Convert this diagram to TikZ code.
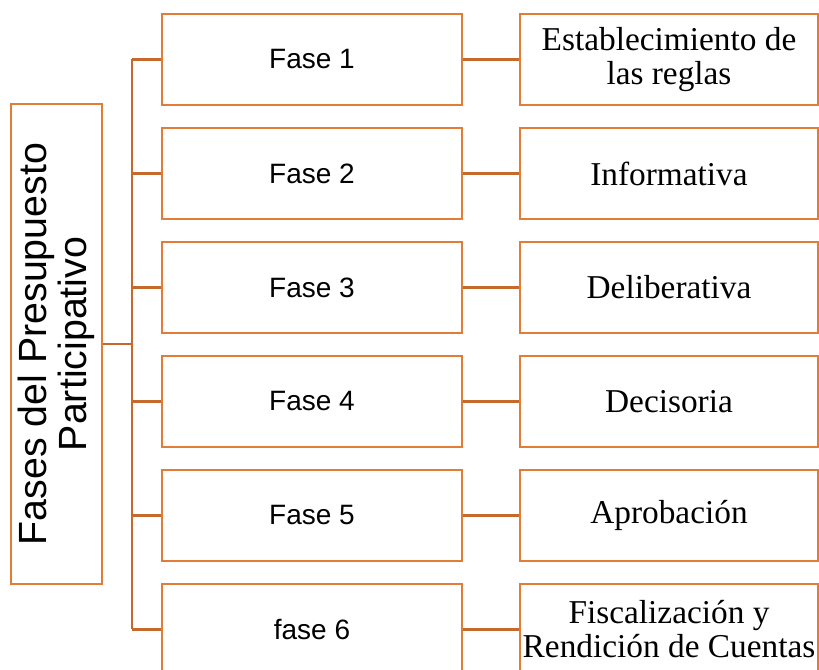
\documentclass[tikz,border=0pt]{standalone}
\usepackage{fontspec}
\setmainfont{Liberation Serif}
\newfontfamily\arialfont{Liberation Sans}
\usetikzlibrary{positioning}
\definecolor{boxorange}{RGB}{226,124,54}
\definecolor{lineorange}{RGB}{197,105,45}

\begin{document}
\begin{tikzpicture}[x=0.75pt, y=-0.75pt, line width=2pt,
    fasebox/.style={draw=boxorange, fill=white, minimum width=225pt, minimum height=68.25pt,
        font=\arialfont\fontsize{21}{24}\selectfont},
    descbox/.style={draw=boxorange, fill=white, minimum width=223.5pt, minimum height=68.25pt,
        inner sep=0pt, align=center, font=\fontsize{25}{25.5}\selectfont},
    link/.style={draw=lineorange}]
    \useasboundingbox (0,0) rectangle (819,670);

    % Left box:
    \node[draw=boxorange, rotate=90, minimum width=360pt, minimum height=68.25pt, inner sep=0pt,
        align=center, font=\arialfont\fontsize{29.5}{30}\selectfont] (fases) at (56.5,344)
        {Fases del Presupuesto\\Participativo};

    % Trunk:
    \coordinate (trunktop) at (132,59.5);
    \coordinate (trunkbot) at (132,629.5);
    \coordinate (trunkmid) at (132,344);
    \draw[link] (trunktop) -- (trunkbot);
    \draw[link] (fases.south) -- (trunkmid);

    % Phases and their names:
    \foreach \i/\fname/\desc in {1/Fase 1/{Establecimiento de\\las reglas},
                                 2/Fase 2/Informativa,
                                 3/Fase 3/Deliberativa,
                                 4/Fase 4/Decisoria,
                                 5/Fase 5/Aprobación,
                                 6/fase 6/{Fiscalización y\\Rendición de Cuentas}}
    {
        \pgfmathsetmacro\y{59.5+114*(\i-1)}
        \node[fasebox] (fase\i) at (312,\y) {\fname};
        \node[descbox] (desc\i) at (669,\y) {\desc};
        \coordinate (branch\i) at (132,\y);
        \draw[link] (branch\i) -- (fase\i.west);
        \draw[link] (fase\i.east) -- (desc\i.west);
    }
\end{tikzpicture}
\end{document}
